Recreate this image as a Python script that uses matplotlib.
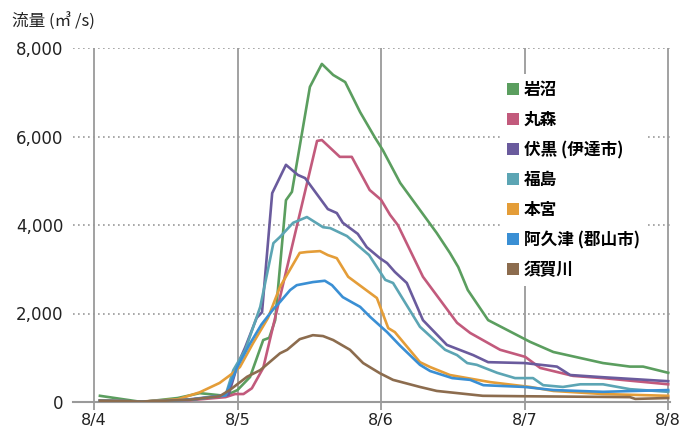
#!/usr/bin/env python3
"""Replot river discharge hydrographs (8/4 - 8/8)."""

import matplotlib
matplotlib.use("Agg")
import matplotlib.pyplot as plt
from matplotlib.patches import Patch

plt.rcParams["font.family"] = ["Noto Sans CJK JP", "DejaVu Sans"]

# hours since 8/4 00:00, discharge in m3/s
iwanuma_h = [1, 8, 14, 17.7, 21.9, 24, 26.1, 28.3, 29.3, 30.3, 32.1, 33.1, 36.1, 38.1, 40, 42, 44.5, 47, 48.3,
             51.2, 57.3, 59.5, 60.9, 62.5, 65.9, 72.9, 76.8, 85.1, 89.6, 91.8, 96]
iwanuma_v = [140, 0, 90, 200, 140, 270, 565, 1400, 1450, 1850, 4560, 4750, 7120, 7640, 7390, 7230, 6550, 5970, 5690,
             4950, 3820, 3370, 3050, 2530, 1850, 1360, 1130, 880, 800, 800, 660]

marumori_h = [1, 8, 16, 22, 23.6, 25, 26.4, 28.3, 37.3, 38.1, 41.1, 43.1, 46.1, 48, 49.5, 50.8, 55, 60.7, 62.9,
              67.9, 72.1, 74.6, 80.1, 85.1, 96]
marumori_v = [30, 10, 40, 110, 180, 180, 310, 770, 5900, 5920, 5540, 5540, 4790, 4570, 4230, 4000, 2830, 1790, 1560,
              1180, 1020, 770, 590, 540, 400]

fushiguro_h = [1, 8, 16, 22.5, 24, 25.3, 27.2, 28.1, 29.8, 32.1, 34.1, 35.3, 39.1, 40.6, 41.6, 44.1, 45.6, 47.8,
               49, 50.3, 52.3, 55, 59, 63.4, 65.9, 72, 77.4, 79.6, 85.1, 96]
fushiguro_v = [30, 10, 60, 160, 840, 1240, 1900, 2030, 4720, 5360, 5130, 5060, 4360, 4270, 4050, 3800, 3500, 3250,
               3140, 2940, 2690, 1850, 1290, 1060, 900, 880, 800, 610, 560, 470]

fukushima_h = [1, 8, 16, 22, 23.3, 25.3, 27.8, 30, 31.1, 33.3, 35.6, 38.3, 39.5, 42.3, 46, 47.3, 48.7, 50, 54.5,
               58.7, 60.7, 62.4, 64, 67.4, 70.4, 73.4, 75.1, 78.4, 81.3, 85.1, 89.6, 96]
fukushima_v = [30, 10, 50, 150, 720, 1180, 2150, 3590, 3730, 4050, 4180, 3950, 3930, 3750, 3320, 3050, 2760, 2690,
               1700, 1180, 1060, 880, 840, 660, 540, 540, 380, 340, 400, 400, 290, 230]

motomiya_h = [1, 8, 14, 17.7, 21, 23.2, 24.4, 26.6, 29.1, 31.1, 34.4, 35.6, 37.8, 39.1, 40.6, 42.5, 45, 47.3, 49.2,
              50.3, 54.5, 56.2, 59.5, 66.2, 72.9, 76.8, 85.1, 96]
motomiya_v = [30, 10, 60, 220, 430, 650, 790, 1330, 1900, 2600, 3370, 3390, 3410, 3320, 3250, 2830, 2580, 2350, 1670,
              1580, 900, 790, 610, 450, 340, 250, 180, 140]

akutsu_h = [1, 8, 16, 22, 24, 26, 28, 30, 31.1, 32.8, 33.9, 36.6, 38.6, 39.8, 41.6, 43.3, 44.5, 46.2, 49, 51.2,
            54.5, 56.2, 59.9, 62.9, 65.1, 72, 76.8, 85.1, 96]
akutsu_v = [30, 10, 50, 150, 800, 1300, 1750, 2100, 2260, 2530, 2640, 2710, 2740, 2640, 2370, 2240, 2150, 1920, 1580,
            1270, 840, 700, 540, 500, 380, 340, 270, 230, 270]

sukagawa_h = [1, 8, 16, 21, 22.7, 25.6, 27.8, 31.1, 32.3, 34.4, 36.6, 38.3, 40, 42.8, 45, 47.8, 50, 54.5, 57.3, 65,
              72, 89.6, 90.5, 96]
sukagawa_v = [30, 10, 50, 130, 270, 570, 720, 1100, 1180, 1420, 1510, 1490, 1400, 1180, 880, 650, 500, 340, 250, 140,
              130, 110, 70, 90]

names = ["岩沼", "丸森", "伏黒 (伊達市)", "福島", "本宮", "阿久津 (郡山市)", "須賀川"]
colors = ["#5b9e5f", "#c25a7c", "#6a5b9d", "#5ca5b4", "#e49d38", "#3a8fd4", "#8c6c4e"]
series = [(iwanuma_h, iwanuma_v), (marumori_h, marumori_v), (fushiguro_h, fushiguro_v),
          (fukushima_h, fukushima_v), (motomiya_h, motomiya_v), (akutsu_h, akutsu_v), (sukagawa_h, sukagawa_v)]

day_ticks = [0, 24, 48, 72, 96]
day_labels = ["8/4", "8/5", "8/6", "8/7", "8/8"]
y_ticks = [0, 2000, 4000, 6000, 8000]

fig = plt.figure(figsize=(6.84, 4.33), dpi=100)
ax = fig.add_axes([73 / 684, 31 / 433, 597 / 684, 354 / 433])

grey = "#9a9a9a"
for y in y_ticks[1:]:
    ax.axhline(y, color=grey, lw=1.2, ls=(0, (1, 2)), zorder=1)
for d in day_ticks:
    ax.axvline(d, color=grey, lw=1.3, zorder=1)

for (h, v), c in zip(series, colors):
    ax.plot(h, v, color=c, lw=1.9, zorder=3, solid_joinstyle="round")

ax.set_xlim(-3.5, 96.3)
ax.set_ylim(0, 8000)
ax.set_xticks(day_ticks, day_labels)
ax.set_yticks(y_ticks, [f"{t:,}" for t in y_ticks])
ax.tick_params(axis="x", length=6, width=1.3, color=grey, labelsize=11.5, pad=2, labelcolor="#222222")
ax.tick_params(axis="y", length=0, labelsize=12, pad=7, labelcolor="#222222")
for s in ["top", "right", "left"]:
    ax.spines[s].set_visible(False)
ax.spines["bottom"].set_color(grey)
ax.spines["bottom"].set_linewidth(1.5)
for lbl in ax.get_yticklabels():
    lbl.set_fontfamily(["DejaVu Sans"])
for lbl in ax.get_xticklabels():
    lbl.set_fontfamily(["DejaVu Sans"])

fig.text(12 / 684, 1 - 22 / 433, "流量 (㎥ /s)", fontsize=12, color="#222222", va="center", ha="left")

handles = [Patch(facecolor=c, edgecolor="none") for c in colors]
leg = ax.legend(handles, names, loc="upper left", bbox_to_anchor=(492 / 684, 1 - 66 / 433),
                bbox_transform=fig.transFigure, frameon=True, facecolor="white", edgecolor="none",
                framealpha=1, fancybox=False, handlelength=0.7, handleheight=0.7, handletextpad=0.3,
                labelspacing=0.72, borderpad=0.4, prop={"size": 12, "weight": "bold"})
leg.set_zorder(5)

fig.savefig("out.png", dpi=100)
